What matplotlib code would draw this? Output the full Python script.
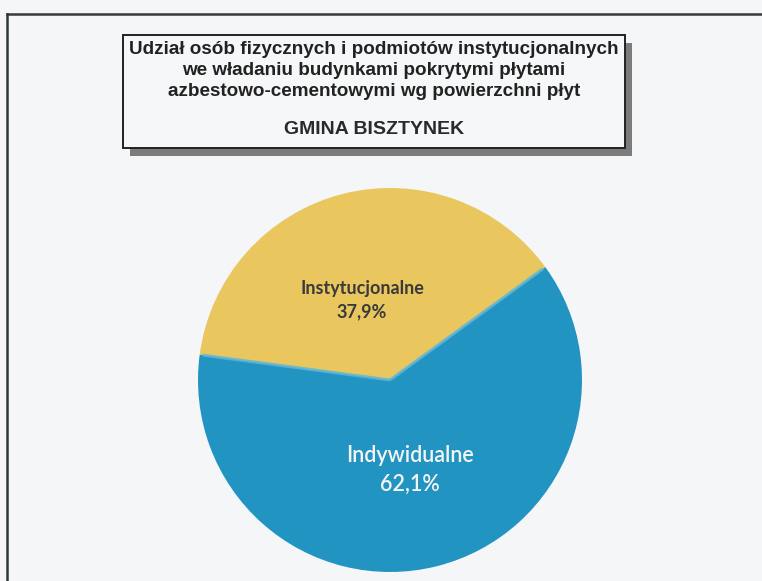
import numpy as np
import matplotlib.pyplot as plt
from matplotlib.patches import Rectangle

# data
categories = ['Instytucjonalne', 'Indywidualne']
shares = [37.9, 62.1]
colors = ['#E9C75E', '#2294C2']
label_colors = ['#3A3A3A', '#F4F4F4']

title_lines = ['Udział osób fizycznych i podmiotów instytucjonalnych',
               'we władaniu budynkami pokrytymi płytami',
               'azbestowo-cementowymi wg powierzchni płyt']
subtitle = 'GMINA BISZTYNEK'

W, H = 762, 581
fig = plt.figure(figsize=(W / 100, H / 100), dpi=100)
fig.patch.set_facecolor('#F4F6F8')
ax = fig.add_axes([0, 0, 1, 1])

title_font = ['Liberation Sans Narrow', 'Liberation Sans', 'DejaVu Sans']
label_font = ['Lato', 'DejaVu Sans']

# outer frame of the scanned page
ax.plot([7, W], [H - 14, H - 14], color='#3A3A3A', lw=1.8)
ax.plot([7, 7], [H - 14, 0], color='#2E3A36', lw=1.8)

# title box with drop shadow
bx, by, bw, bh = 123, H - 148, 502, 113
ax.add_patch(Rectangle((bx + 7, by - 8), bw, bh, facecolor='#7C7C7C', edgecolor='none'))
ax.add_patch(Rectangle((bx, by), bw, bh, facecolor='#F6F7F8', edgecolor='#222222', lw=1.4))
for i, line in enumerate(title_lines):
    ax.text(bx + bw / 2, H - 50 - i * 20.5, line, ha='center', va='center',
            fontsize=13.6, fontweight='bold', color='#222222', family=title_font)
ax.text(bx + bw / 2, H - 129, subtitle, ha='center', va='center',
        fontsize=14, fontweight='bold', color='#2A2A2A', family=title_font)

# pie
cx, cy, r = 390, H - 380, 192
start = 36
ax.pie(shares, colors=colors, startangle=start, counterclock=True,
       center=(cx, cy), radius=r, frame=True,
       wedgeprops=dict(linewidth=0))

# light bevel along the radial edges of the blue slice
edge_angles = np.radians([start, start + shares[0] / sum(shares) * 360])
for a in edge_angles:
    ax.plot([cx, cx + r * 0.985 * np.cos(a)], [cy, cy + r * 0.985 * np.sin(a)],
            color='#5DB6DA', lw=2.2, solid_capstyle='butt', alpha=0.8)

ax.set_xlim(0, W)
ax.set_ylim(0, H)
ax.set_aspect('equal')
ax.axis('off')

label_pos = [(362, H - 300), (410, H - 470)]
label_sizes = [13, 15.5]
label_weights = ['bold', 'semibold']
for name, val, (lx, ly), c, fs, fw in zip(categories, shares, label_pos,
                                         label_colors, label_sizes, label_weights):
    txt = f'{name}\n{val:.1f}%'.replace('.', ',')
    ax.text(lx, ly, txt, ha='center', va='center', fontsize=fs, fontweight=fw,
            color=c, family=label_font, linespacing=1.45)

fig.savefig('out.png', dpi=100, facecolor=fig.get_facecolor())
